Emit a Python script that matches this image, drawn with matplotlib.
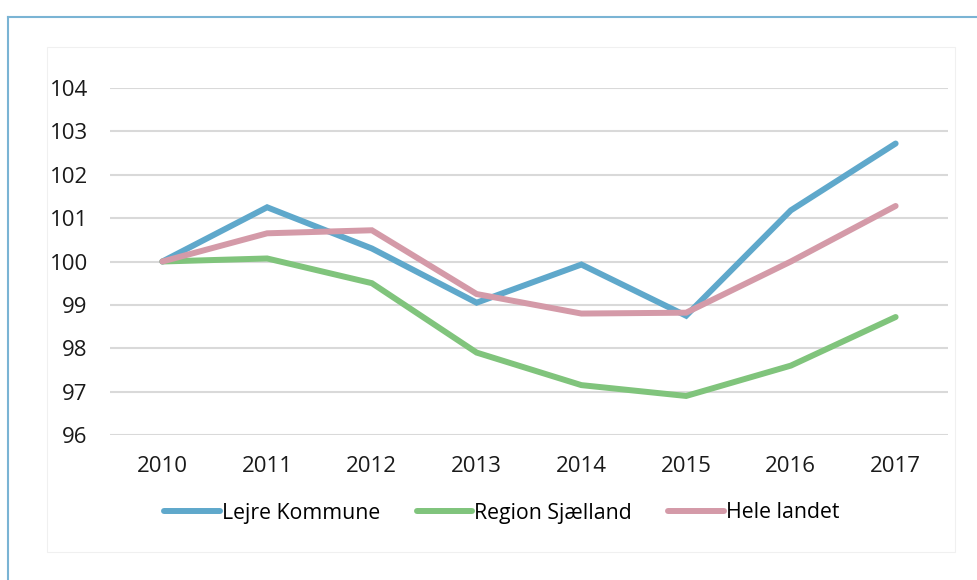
import matplotlib
matplotlib.use("Agg")
import matplotlib.pyplot as plt
from matplotlib.lines import Line2D
from matplotlib.patches import Rectangle

#----------------------------------------------------
# Data
#----------------------------------------------------
years = ["2010", "2011", "2012", "2013", "2014", "2015", "2016", "2017"]
lejre = [100.0, 101.25, 100.3, 99.05, 99.93, 98.75, 101.18, 102.72]
region = [100.0, 100.07, 99.5, 97.9, 97.15, 96.9, 97.6, 98.72]
landet = [100.0, 100.65, 100.72, 99.25, 98.8, 98.82, 100.0, 101.28]
y_ticks = [96, 97, 98, 99, 100, 101, 102, 103, 104]

series = [
    ("Lejre Kommune", lejre, "#5fa8cb"),
    ("Region Sjælland", region, "#80c47c"),
    ("Hele landet", landet, "#d49aa8"),
]

plt.rcParams["font.family"] = ["Open Sans", "DejaVu Sans"]

#----------------------------------------------------
# Figure
#----------------------------------------------------
fig = plt.figure(figsize=(9.78, 5.8), dpi=100)
W, H = 978, 580

# outer blue frame (left and top)
fig.add_artist(Line2D([8 / W, 8 / W], [0, 1 - 17 / H], transform=fig.transFigure,
                      color="#7ab4d4", lw=1.5))
fig.add_artist(Line2D([8 / W, 1], [1 - 17 / H, 1 - 17 / H], transform=fig.transFigure,
                      color="#7ab4d4", lw=1.5))
# faint chart area border
fig.add_artist(Rectangle((47 / W, 1 - 552 / H), (955 - 47) / W, (552 - 47) / H,
                         transform=fig.transFigure, fill=False, ec="#f0f0f0", lw=0.8))

ax = fig.add_axes([110 / W, 1 - 435 / H, (948 - 110) / W, (435 - 88) / H])
x = list(range(len(years)))
for name, vals, col in series:
    ax.plot(x, vals, color=col, lw=4.3, label=name, solid_capstyle="round",
            solid_joinstyle="miter", clip_on=False)

ax.set_xlim(-0.5, len(years) - 0.5)
ax.set_ylim(96, 104)
ax.set_yticks(y_ticks)
ax.set_yticklabels([str(v) for v in y_ticks])
ax.set_xticks(x)
ax.set_xticklabels(years)
ax.tick_params(length=0, labelsize=16, colors="#1a1a1a")
ax.tick_params(axis="y", pad=16)
ax.tick_params(axis="x", pad=15)
ax.grid(axis="y", color="#d9d9d9", lw=1.5)
ax.set_axisbelow(True)
for s in ax.spines.values():
    s.set_visible(False)

ax.legend(loc="center", bbox_to_anchor=(502 / W, 1 - 513 / H),
          bbox_transform=fig.transFigure, ncol=3, frameon=False,
          fontsize=15.3, handlelength=2.6, handletextpad=0.12, columnspacing=1.7)

fig.savefig("out.png", dpi=100)
